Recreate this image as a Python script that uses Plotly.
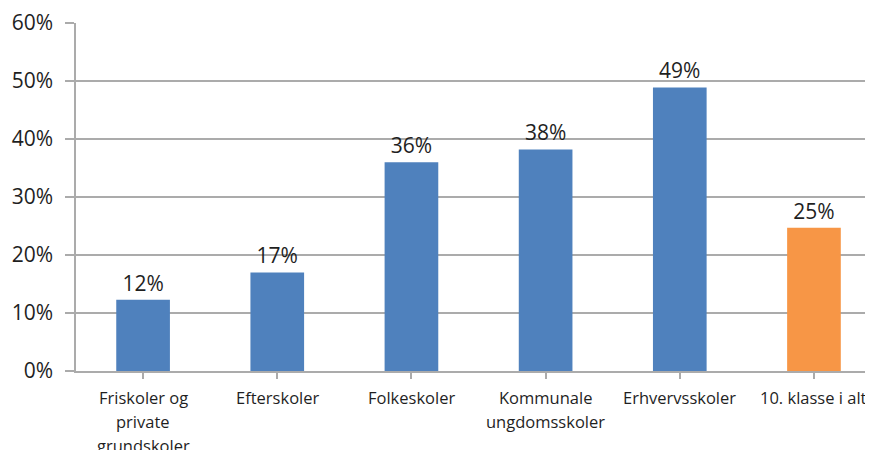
import plotly.graph_objects as go

categories = ["Friskoler og<br>private<br>grundskoler", "Efterskoler", "Folkeskoler",
              "Kommunale<br>ungdomsskoler", "Erhvervsskoler", "10. klasse i alt"]
values = [12.3, 17.0, 36.0, 38.2, 48.9, 24.7]
bar_colors = ["#4F81BD", "#4F81BD", "#4F81BD", "#4F81BD", "#4F81BD", "#F79646"]
y_ticks = [0, 10, 20, 30, 40, 50, 60]
y_tick_labels = ["0%", "10%", "20%", "30%", "40%", "50%", "60%"]

FONT = "Open Sans"
TXT = "#1f1f1f"
GRID = "#ababab"

fig = go.Figure(go.Bar(
    x=list(range(len(categories))),
    y=values,
    marker=dict(color=bar_colors, line=dict(width=0)),
    width=0.40,
    texttemplate="%{y:.0f}%",
    textposition="outside",
    textfont=dict(family=FONT, size=21, color=TXT),
    cliponaxis=False,
))

# category labels, one annotation per text line (for Excel-like line spacing)
for i, cat in enumerate(categories):
    for k, line in enumerate(cat.split("<br>")):
        fig.add_annotation(
            x=i, y=0, xref="x", yref="y",
            text=line, showarrow=False,
            xanchor="center", yanchor="middle",
            yshift=-26 - 24 * k,
            font=dict(family=FONT, size=16.5, color=TXT),
        )

# page body has an 8px margin, so the figure is sized to end at the window edge
fig.update_layout(
    width=865, height=442,
    margin=dict(l=68, r=0, t=15, b=79),
    paper_bgcolor="white", plot_bgcolor="white",
    showlegend=False,
    font=dict(family=FONT, color=TXT),
)
fig.update_xaxes(
    tickmode="array", tickvals=list(range(len(categories))),
    ticktext=["" for _ in categories],
    range=[-0.5, 5.44],
    tickson="boundaries", ticks="outside", ticklen=6, tickcolor=GRID, tickwidth=1.5,
    showline=True, linecolor=GRID, linewidth=1.5,
    showgrid=False, automargin=False,
)
fig.update_yaxes(
    range=[0, 60], tickmode="array", tickvals=y_ticks, ticktext=y_tick_labels,
    ticks="outside", ticklen=9, tickcolor=GRID, tickwidth=1.5,
    showline=True, linecolor=GRID, linewidth=1.5,
    showgrid=True, gridcolor=GRID, gridwidth=1.5,
    zeroline=False, automargin=False,
    tickfont=dict(family=FONT, size=21, color=TXT),
    ticklabelstandoff=8,
)

fig.write_html("out.html")
